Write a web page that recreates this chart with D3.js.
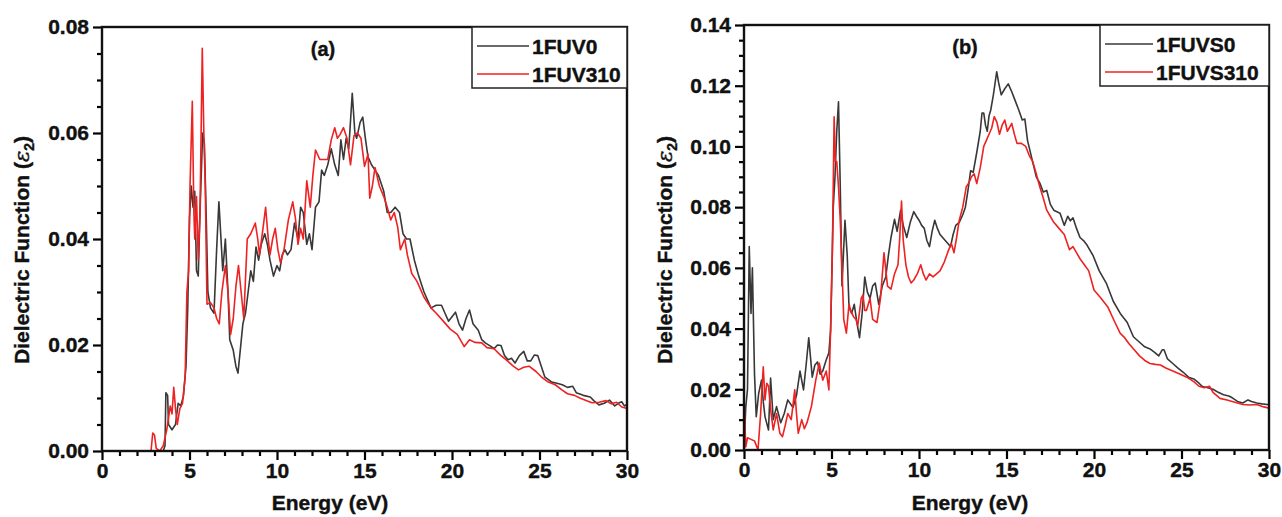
<!DOCTYPE html>
<html lang="en">
	<head>
		<meta charset="utf-8">
		<title>Dielectric function</title>
		<script type="text/javascript" src="https://cdn.jsdelivr.net/npm/d3@7"></script>
		<style type="text/css">
			body { margin: 0; background: #fff; }
			text { font-family: "Liberation Sans", Arial, sans-serif; font-weight: bold; fill: #111; stroke: #111; stroke-width: 0.4px; }
		</style>
	</head>
	<body>
		<script type="text/javascript">

			var w = 1282;
			var h = 517;

			// energy (eV), epsilon2 pairs
			var fuv0 = [[0,0],[3.5,0],[3.6,0.001],[3.65,0.011],[3.75,0.0105],[3.8,0.005],[4.0,0.004],[4.2,0.005],[4.35,0.009],[4.5,0.0085],[4.65,0.0103],[4.8,0.016],[4.9,0.027],[5.0,0.044],[5.1,0.050],[5.2,0.046],[5.3,0.049],[5.4,0.034],[5.5,0.033],[5.6,0.045],[5.75,0.060],[5.85,0.058],[5.95,0.045],[6.05,0.030],[6.2,0.027],[6.4,0.026],[6.55,0.038],[6.68,0.047],[6.8,0.040],[6.9,0.034],[7.05,0.040],[7.2,0.030],[7.3,0.021],[7.5,0.019],[7.65,0.016],[7.77,0.0147],[7.9,0.019],[8.05,0.024],[8.2,0.026],[8.35,0.030],[8.5,0.034],[8.65,0.032],[8.8,0.0385],[8.95,0.036],[9.1,0.039],[9.3,0.041],[9.45,0.039],[9.6,0.036],[9.8,0.033],[10.0,0.035],[10.15,0.034],[10.3,0.037],[10.45,0.038],[10.6,0.037],[10.8,0.038],[11.0,0.043],[11.2,0.040],[11.35,0.046],[11.5,0.045],[11.7,0.039],[11.85,0.041],[12.0,0.038],[12.2,0.046],[12.4,0.047],[12.55,0.053],[12.7,0.052],[12.9,0.054],[13.1,0.057],[13.3,0.054],[13.5,0.052],[13.65,0.0587],[13.8,0.055],[13.95,0.059],[14.1,0.057],[14.3,0.0675],[14.45,0.060],[14.55,0.059],[14.75,0.062],[14.9,0.063],[15.05,0.059],[15.2,0.0555],[15.4,0.054],[15.6,0.053],[15.8,0.052],[16.1,0.049],[16.3,0.045],[16.5,0.045],[16.75,0.046],[17.0,0.045],[17.2,0.041],[17.4,0.040],[17.6,0.040],[17.85,0.036],[18.1,0.033],[18.4,0.030],[18.8,0.027],[19.1,0.0275],[19.4,0.0275],[19.6,0.026],[19.8,0.0245],[20.2,0.0262],[20.4,0.024],[20.6,0.0228],[20.8,0.025],[21.0,0.0266],[21.2,0.024],[21.5,0.0228],[21.7,0.021],[21.9,0.0204],[22.2,0.0198],[22.4,0.0193],[22.6,0.020],[22.8,0.0199],[23.0,0.018],[23.2,0.0172],[23.4,0.0175],[23.6,0.0166],[23.85,0.018],[24.1,0.0188],[24.3,0.017],[24.5,0.017],[24.7,0.0181],[24.9,0.018],[25.1,0.016],[25.3,0.014],[25.7,0.013],[26.0,0.0128],[26.3,0.0125],[26.6,0.012],[26.9,0.0122],[27.1,0.011],[27.5,0.0105],[27.9,0.0102],[28.1,0.0095],[28.4,0.0087],[28.7,0.009],[29.0,0.0096],[29.3,0.0085],[29.5,0.009],[29.7,0.0093],[29.85,0.0085],[30,0.0088]];

			var fuv310 = [[0,0],[2.8,0],[2.9,0.0034],[3.0,0.003],[3.1,0.0005],[3.3,0],[3.5,0.001],[3.7,0.004],[3.9,0.0085],[4.0,0.007],[4.1,0.012],[4.2,0.008],[4.3,0.005],[4.45,0.008],[4.6,0.009],[4.75,0.014],[4.85,0.030],[4.95,0.034],[5.03,0.050],[5.16,0.066],[5.25,0.045],[5.3,0.040],[5.4,0.048],[5.5,0.036],[5.6,0.045],[5.73,0.076],[5.82,0.060],[5.9,0.050],[6.0,0.0277],[6.2,0.028],[6.4,0.027],[6.55,0.025],[6.7,0.024],[6.85,0.030],[7.05,0.035],[7.2,0.030],[7.35,0.022],[7.5,0.025],[7.65,0.031],[7.8,0.035],[7.95,0.030],[8.1,0.025],[8.3,0.040],[8.5,0.041],[8.76,0.043],[8.9,0.040],[9.0,0.037],[9.2,0.042],[9.35,0.046],[9.5,0.040],[9.6,0.037],[9.75,0.040],[9.9,0.042],[10.05,0.038],[10.2,0.0355],[10.4,0.038],[10.65,0.0436],[10.9,0.047],[11.05,0.044],[11.2,0.039],[11.35,0.042],[11.5,0.040],[11.7,0.051],[11.9,0.046],[12.05,0.052],[12.2,0.0568],[12.45,0.055],[12.7,0.055],[12.9,0.055],[13.1,0.0587],[13.3,0.061],[13.45,0.059],[13.6,0.0597],[13.8,0.061],[14.0,0.059],[14.2,0.054],[14.4,0.0595],[14.6,0.060],[14.8,0.059],[15.0,0.0537],[15.2,0.056],[15.3,0.0477],[15.45,0.050],[15.6,0.0535],[15.85,0.050],[16.1,0.048],[16.3,0.046],[16.5,0.0436],[16.7,0.045],[16.9,0.0422],[17.05,0.038],[17.3,0.040],[17.45,0.037],[17.7,0.0335],[18.0,0.032],[18.4,0.029],[18.8,0.027],[19.1,0.026],[19.5,0.0245],[19.9,0.023],[20.3,0.022],[20.7,0.0197],[21.0,0.021],[21.3,0.0205],[21.7,0.0204],[22.0,0.0195],[22.4,0.0193],[22.8,0.018],[23.1,0.0172],[23.5,0.016],[23.8,0.0153],[24.1,0.0158],[24.4,0.016],[24.8,0.015],[25.1,0.014],[25.5,0.013],[25.9,0.0125],[26.3,0.0115],[26.6,0.0108],[27.0,0.0105],[27.3,0.010],[27.7,0.0095],[28.0,0.0091],[28.4,0.0092],[28.8,0.0095],[29.1,0.0089],[29.4,0.0092],[29.7,0.0083],[30,0.008]];

			var fuvs0 = [[0,0],[0.1,0.014],[0.2,0.02],[0.3,0.067],[0.4,0.045],[0.48,0.060],[0.6,0.025],[0.7,0.011],[0.84,0.0187],[1.0,0.023],[1.1,0.016],[1.2,0.011],[1.4,0.0066],[1.52,0.0237],[1.67,0.010],[1.86,0.0143],[2.1,0.009],[2.3,0.012],[2.5,0.0165],[2.8,0.014],[3.0,0.018],[3.2,0.026],[3.4,0.0198],[3.55,0.028],[3.7,0.037],[3.9,0.024],[4.05,0.028],[4.2,0.029],[4.35,0.025],[4.5,0.026],[4.7,0.0297],[4.85,0.032],[4.95,0.0395],[5.1,0.080],[5.2,0.090],[5.3,0.105],[5.4,0.1147],[5.5,0.087],[5.6,0.054],[5.77,0.0757],[5.9,0.064],[6.0,0.047],[6.15,0.045],[6.3,0.048],[6.45,0.042],[6.6,0.037],[6.75,0.045],[6.9,0.057],[7.05,0.052],[7.2,0.050],[7.35,0.054],[7.5,0.055],[7.7,0.048],[7.9,0.054],[8.1,0.057],[8.25,0.064],[8.4,0.070],[8.6,0.076],[8.75,0.072],[8.95,0.079],[9.1,0.074],[9.3,0.070],[9.5,0.075],[9.7,0.0785],[9.85,0.077],[10.0,0.0757],[10.15,0.074],[10.3,0.073],[10.45,0.069],[10.6,0.067],[10.75,0.072],[10.9,0.0757],[11.05,0.073],[11.2,0.071],[11.35,0.070],[11.5,0.069],[11.65,0.068],[11.8,0.067],[11.95,0.071],[12.1,0.074],[12.3,0.075],[12.5,0.0775],[12.65,0.080],[12.8,0.0856],[12.95,0.092],[13.1,0.0915],[13.3,0.098],[13.5,0.105],[13.6,0.111],[13.7,0.111],[13.8,0.107],[13.9,0.105],[14.0,0.110],[14.1,0.112],[14.25,0.117],[14.44,0.1246],[14.55,0.121],[14.7,0.117],[14.9,0.119],[15.1,0.1206],[15.3,0.118],[15.5,0.115],[15.7,0.112],[15.9,0.1087],[16.05,0.109],[16.2,0.102],[16.45,0.096],[16.7,0.090],[16.9,0.088],[17.1,0.085],[17.3,0.0855],[17.5,0.081],[17.7,0.079],[18.06,0.078],[18.3,0.074],[18.5,0.077],[18.65,0.0755],[18.8,0.0765],[19.0,0.073],[19.2,0.070],[19.4,0.069],[19.6,0.0675],[19.95,0.064],[20.3,0.059],[20.7,0.055],[21.1,0.049],[21.5,0.045],[21.9,0.042],[22.25,0.0373],[22.6,0.0355],[22.9,0.034],[23.2,0.0333],[23.5,0.032],[23.7,0.031],[23.9,0.033],[24.0,0.033],[24.2,0.030],[24.5,0.0285],[24.8,0.027],[25.1,0.0256],[25.4,0.024],[25.7,0.0234],[26.0,0.022],[26.2,0.0209],[26.5,0.0205],[26.8,0.020],[27.1,0.019],[27.4,0.0182],[27.7,0.0178],[27.9,0.0172],[28.2,0.016],[28.5,0.0155],[28.8,0.0165],[29.0,0.016],[29.3,0.0155],[29.6,0.0152],[29.9,0.015],[30,0.0148]];

			var fuvs310 = [[0,0.0176],[0.1,0.001],[0.2,0.004],[0.4,0.0035],[0.6,0.003],[0.8,0.0],[0.95,0.012],[1.1,0.0274],[1.2,0.0165],[1.3,0.022],[1.4,0.021],[1.55,0.012],[1.67,0.0066],[1.86,0.012],[2.05,0.0055],[2.2,0.0044],[2.35,0.008],[2.5,0.012],[2.7,0.010],[2.9,0.0198],[3.0,0.012],[3.1,0.0055],[3.3,0.010],[3.45,0.007],[3.6,0.009],[3.85,0.0143],[4.1,0.023],[4.3,0.0286],[4.5,0.023],[4.7,0.026],[4.85,0.0198],[4.95,0.040],[5.05,0.065],[5.15,0.1098],[5.22,0.095],[5.3,0.095],[5.4,0.0867],[5.5,0.0757],[5.6,0.060],[5.7,0.043],[5.85,0.0385],[6.0,0.048],[6.1,0.046],[6.25,0.044],[6.4,0.043],[6.5,0.041],[6.7,0.050],[6.8,0.051],[6.9,0.046],[7.0,0.046],[7.2,0.050],[7.35,0.043],[7.6,0.042],[7.8,0.050],[8.0,0.065],[8.2,0.054],[8.4,0.053],[8.6,0.058],[8.8,0.061],[8.9,0.070],[9.0,0.082],[9.1,0.069],[9.25,0.061],[9.4,0.057],[9.55,0.055],[9.7,0.056],[9.9,0.058],[10.1,0.061],[10.25,0.058],[10.4,0.056],[10.6,0.058],[10.8,0.057],[11.0,0.058],[11.2,0.059],[11.45,0.062],[11.7,0.066],[11.85,0.068],[12.0,0.065],[12.15,0.070],[12.3,0.0757],[12.5,0.080],[12.7,0.0867],[12.85,0.088],[13.0,0.090],[13.15,0.091],[13.3,0.0878],[13.5,0.093],[13.7,0.100],[13.85,0.102],[14.0,0.104],[14.15,0.106],[14.3,0.1098],[14.45,0.108],[14.6,0.104],[14.75,0.107],[14.9,0.1087],[15.05,0.105],[15.3,0.1076],[15.45,0.104],[15.6,0.101],[15.85,0.101],[16.1,0.100],[16.3,0.097],[16.5,0.095],[16.7,0.091],[16.9,0.0867],[17.1,0.083],[17.3,0.079],[17.5,0.077],[17.7,0.075],[18.0,0.073],[18.3,0.071],[18.6,0.066],[18.8,0.067],[19.0,0.065],[19.2,0.063],[19.45,0.061],[19.7,0.059],[20.0,0.0527],[20.4,0.050],[20.8,0.047],[21.2,0.042],[21.5,0.0384],[21.75,0.037],[22.0,0.035],[22.3,0.033],[22.6,0.031],[22.9,0.0295],[23.2,0.0285],[23.5,0.0282],[23.8,0.028],[24.1,0.027],[24.5,0.026],[24.9,0.025],[25.3,0.024],[25.7,0.0225],[26.0,0.021],[26.3,0.0205],[26.6,0.021],[26.8,0.019],[27.2,0.017],[27.6,0.0165],[27.9,0.016],[28.2,0.0155],[28.5,0.015],[28.9,0.0148],[29.3,0.015],[29.7,0.0142],[30,0.0138]];

			var xTicks = [0, 5, 10, 15, 20, 25, 30];
			var yTicksA = [0, 0.02, 0.04, 0.06, 0.08];
			var yTicksB = [0, 0.02, 0.04, 0.06, 0.08, 0.10, 0.12, 0.14];
			var namesA = ["1FUV0", "1FUV310"];
			var namesB = ["1FUVS0", "1FUVS310"];
			var colors = ["#383838", "#ee2222"];

			var svg = d3.select("body")
						.append("svg")
						.attr("width", w)
						.attr("height", h);

			function drawPanel(p) {
				var xScale = d3.scaleLinear().domain([0, 30]).range([p.left, p.right]);
				var yScale = d3.scaleLinear().domain([0, p.ymax]).range([p.bottom, p.top]);

				var g = svg.append("g");

				// minor ticks
				var minorX = d3.range(0, 31, 1).filter(function(d) { return d % 5 != 0; });
				var minorY = d3.range(0, Math.round(p.ymax / 0.005) + 1).map(function(i) { return i * 0.005; })
								.filter(function(d, i) { return i % 4 != 0; });

				g.append("g")
				 .attr("transform", "translate(0," + p.bottom + ")")
				 .call(d3.axisBottom(xScale).tickValues(minorX).tickSize(5).tickFormat(""))
				 .call(function(a) { a.select(".domain").remove(); });
				g.append("g")
				 .attr("transform", "translate(" + p.left + ",0)")
				 .call(d3.axisLeft(yScale).tickValues(minorY).tickSize(5).tickFormat(""))
				 .call(function(a) { a.select(".domain").remove(); });

				var xAxis = g.append("g")
				 .attr("transform", "translate(0," + p.bottom + ")")
				 .call(d3.axisBottom(xScale).tickValues(xTicks).tickSize(9).tickPadding(3).tickFormat(d3.format("d")));
				xAxis.select(".domain").remove();

				var yAxis = g.append("g")
				 .attr("transform", "translate(" + p.left + ",0)")
				 .call(d3.axisLeft(yScale).tickValues(p.yTicks).tickSize(9).tickPadding(4).tickFormat(d3.format(".2f")));
				yAxis.select(".domain").remove();

				g.selectAll(".tick line").attr("stroke", "#000").attr("stroke-width", 2.2);
				g.selectAll(".tick text")
				 .attr("font-size", "21px")
				 .attr("font-family", "Liberation Sans, Arial, sans-serif")
				 .attr("font-weight", "bold")
				 .attr("fill", "#111");

				var line = d3.line()
							 .x(function(d) { return xScale(d[0]); })
							 .y(function(d) { return yScale(d[1]); });

				p.series.forEach(function(s, i) {
					g.append("path")
					 .datum(s)
					 .attr("d", line)
					 .attr("fill", "none")
					 .attr("stroke", colors[i])
					 .attr("stroke-width", 1.6)
					 .attr("stroke-linejoin", "round");
				});

				// frame
				g.append("rect")
				 .attr("x", p.left)
				 .attr("y", p.top)
				 .attr("width", p.right - p.left)
				 .attr("height", p.bottom - p.top)
				 .attr("fill", "none")
				 .attr("stroke", "#111")
				 .attr("stroke-width", 2.4);

				// legend
				g.append("rect")
				 .attr("x", p.legX)
				 .attr("y", p.top)
				 .attr("width", p.right - p.legX)
				 .attr("height", 61)
				 .attr("fill", "#fff")
				 .attr("stroke", "#222")
				 .attr("stroke-width", 1.5);
				p.names.forEach(function(n, i) {
					var ly = p.top + 19 + i * 28;
					g.append("line")
					 .attr("x1", p.legX + 5)
					 .attr("x2", p.legX + 5 + p.legLine)
					 .attr("y1", ly)
					 .attr("y2", ly)
					 .attr("stroke", colors[i])
					 .attr("stroke-width", 1.6);
					g.append("text")
					 .attr("x", p.legX + 8 + p.legLine)
					 .attr("y", ly + 8)
					 .attr("font-size", "21px")
					 .text(n);
				});

				g.append("text")
				 .attr("x", p.labelX)
				 .attr("y", p.top + 29)
				 .attr("text-anchor", "middle")
				 .attr("font-size", "20px")
				 .text(p.label);

				g.append("text")
				 .attr("x", p.xTitleX)
				 .attr("y", 510)
				 .attr("text-anchor", "middle")
				 .attr("font-size", "21px")
				 .text("Energy (eV)");

				var yt = g.append("text")
				 .attr("transform", "translate(" + p.yTitleX + ",250) rotate(-90)")
				 .attr("text-anchor", "middle")
				 .attr("font-size", "21px");
				yt.append("tspan").text("Dielectric Function (");
				yt.append("tspan").attr("font-style", "italic").attr("font-weight", "normal").attr("font-family", "DejaVu Serif, serif").text("\u03b5");
				yt.append("tspan").attr("font-size", "14px").attr("dy", 5).text("2");
				yt.append("tspan").attr("dy", -5).text(")");
			}

			drawPanel({
				left: 102, right: 627, top: 27, bottom: 451, ymax: 0.08, yTicks: yTicksA,
				series: [fuv0, fuv310], names: namesA, legX: 472, legLine: 52,
				label: "(a)", labelX: 323, xTitleX: 330, yTitleX: 29
			});

			drawPanel({
				left: 744, right: 1269, top: 25, bottom: 450, ymax: 0.14, yTicks: yTicksB,
				series: [fuvs0, fuvs310], names: namesB, legX: 1100, legLine: 48,
				label: "(b)", labelX: 965, xTitleX: 970, yTitleX: 672
			});

		</script>
	</body>
</html>
